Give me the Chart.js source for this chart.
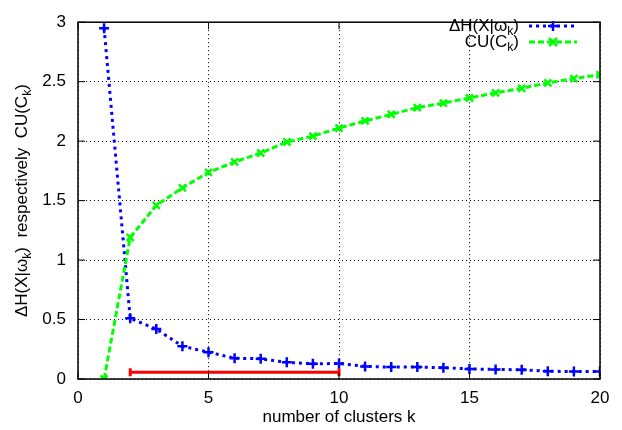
<!DOCTYPE html>
<html lang="en">
<head>
  <meta charset="UTF-8" />
  <title>Delta H and CU vs number of clusters</title>
  <script src="https://cdn.jsdelivr.net/npm/chart.js@4"></script>
  <style>
    body { margin: 0; background: #fff; }
    #wrap { width: 622px; height: 430px; }
  </style>
</head>
<body>
  <div id="wrap"><canvas id="grafico" width="622" height="430"></canvas></div>

  <script>
    // valores
    const clusters = [1, 2, 3, 4, 5, 6, 7, 8, 9, 10, 11, 12, 13, 14, 15, 16, 17, 18, 19, 20];
    const deltaH = [2.95, 0.51, 0.42, 0.275, 0.225, 0.175, 0.17, 0.14, 0.128, 0.13,
                    0.106, 0.10, 0.10, 0.095, 0.085, 0.08, 0.078, 0.065, 0.063, 0.063];
    const cu = [0.0, 1.19, 1.46, 1.607, 1.737, 1.825, 1.90, 1.993, 2.042, 2.11,
                2.17, 2.225, 2.282, 2.32, 2.363, 2.406, 2.444, 2.49, 2.526, 2.559];
    const faixaK = [2, 10];      // barra vermelha
    const faixaY = 0.057;
    const xTicks = [0, 5, 10, 15, 20];
    const yTicks = [0, 0.5, 1, 1.5, 2, 2.5, 3];

    const FONTE = '"Liberation Sans", Arial, sans-serif';
    const TAM = 17;

    // texto com subscritos: partes = [[texto, sub], ...]
    function larguraRica(ctx, partes, tam) {
      let w = 0;
      for (const [t, sub] of partes) {
        ctx.font = (sub ? tam * 0.72 : tam) + 'px ' + FONTE;
        w += ctx.measureText(t).width;
      }
      return w;
    }
    function textoRico(ctx, partes, x, y, tam) {
      ctx.textAlign = 'left';
      ctx.textBaseline = 'alphabetic';
      for (const [t, sub] of partes) {
        ctx.font = (sub ? tam * 0.72 : tam) + 'px ' + FONTE;
        ctx.fillText(t, x, sub ? y + tam * 0.25 : y);
        x += ctx.measureText(t).width;
      }
    }

    const extras = {
      id: 'extras',
      afterDraw(chart) {
        const ctx = chart.ctx;
        const a = chart.chartArea;
        const sx = chart.scales.x, sy = chart.scales.y;
        ctx.save();
        ctx.fillStyle = '#000';

        // moldura e marcas para dentro
        ctx.strokeStyle = '#000';
        ctx.lineWidth = 1.5;
        ctx.setLineDash([]);
        ctx.strokeRect(a.left, a.top, a.right - a.left, a.bottom - a.top);
        ctx.lineWidth = 1;
        ctx.beginPath();
        xTicks.forEach(v => {
          const px = sx.getPixelForValue(v);
          ctx.moveTo(px, a.bottom); ctx.lineTo(px, a.bottom - 7);
          ctx.moveTo(px, a.top); ctx.lineTo(px, a.top + 7);
        });
        yTicks.forEach(v => {
          const py = sy.getPixelForValue(v);
          ctx.moveTo(a.left, py); ctx.lineTo(a.left + 7, py);
          ctx.moveTo(a.right, py); ctx.lineTo(a.right - 7, py);
        });
        ctx.stroke();

        // título do eixo y
        const tituloY = [['ΔH(X|ω', 0], ['k', 1], [')  respectively  CU(C', 0], ['k', 1], [')', 0]];
        const w = larguraRica(ctx, tituloY, TAM);
        ctx.save();
        ctx.translate(27, (a.top + a.bottom) / 2);
        ctx.rotate(-Math.PI / 2);
        textoRico(ctx, tituloY, -w / 2, 0, TAM);
        ctx.restore();

        // legenda
        const itens = [
          { partes: [['ΔH(X|ω', 0], ['k', 1], [')', 0]], cor: '#0000ff', dash: [3, 4], marca: 'mais' },
          { partes: [['CU(C', 0], ['k', 1], [')', 0]], cor: '#00ff00', dash: [6, 3], marca: 'xis' }
        ];
        itens.forEach((it, i) => {
          const yy = 26 + i * 16;
          const wl = larguraRica(ctx, it.partes, TAM);
          ctx.fillStyle = '#000';
          textoRico(ctx, it.partes, 519 - wl, yy + 5, TAM);
          ctx.strokeStyle = it.cor;
          ctx.lineWidth = 3;
          ctx.setLineDash(it.dash);
          ctx.beginPath();
          ctx.moveTo(529, yy); ctx.lineTo(577, yy);
          ctx.stroke();
          ctx.setLineDash([]);
          ctx.lineWidth = 2.5;
          ctx.beginPath();
          if (it.marca === 'mais') {
            ctx.moveTo(548, yy); ctx.lineTo(558, yy);
            ctx.moveTo(553, yy - 5); ctx.lineTo(553, yy + 5);
          } else {
            ctx.moveTo(549, yy - 4); ctx.lineTo(557, yy + 4);
            ctx.moveTo(549, yy + 4); ctx.lineTo(557, yy - 4);
          }
          ctx.stroke();
        });
        ctx.restore();
      }
    };

    const ctx = document.getElementById('grafico');
    new Chart(ctx, {
      type: 'line',
      data: {
        datasets: [
          {
            label: 'deltaH',
            data: clusters.map((k, i) => ({ x: k, y: deltaH[i] })),
            borderColor: '#0000ff',
            backgroundColor: '#0000ff',
            borderWidth: 3,
            borderDash: [3, 4],
            pointStyle: 'cross',
            pointRadius: 5,
            pointBorderWidth: 2.5,
            tension: 0,
            order: 2
          },
          {
            label: 'CU',
            data: clusters.map((k, i) => ({ x: k, y: cu[i] })),
            borderColor: '#00ff00',
            backgroundColor: '#00ff00',
            borderWidth: 3,
            borderDash: [6, 3],
            pointStyle: 'crossRot',
            pointRadius: 5,
            pointBorderWidth: 2.5,
            tension: 0,
            order: 1
          },
          {
            label: 'faixa',
            data: faixaK.map(k => ({ x: k, y: faixaY })),
            borderColor: '#ff0000',
            backgroundColor: '#ff0000',
            borderWidth: 3,
            pointStyle: 'line',
            rotation: 90,
            pointRadius: 4,
            pointBorderWidth: 3,
            order: 0
          }
        ]
      },
      options: {
        responsive: false,
        animation: false,
        layout: { padding: { top: 11, right: 22 } },
        plugins: { legend: { display: false }, tooltip: { enabled: false } },
        scales: {
          x: {
            type: 'linear',
            min: 0, max: 20,
            afterBuildTicks: s => { s.ticks = xTicks.map(v => ({ value: v })); },
            afterFit: s => { s.height = 51; },
            grid: { color: '#000', lineWidth: 1, drawTicks: false },
            border: { display: false, dash: [1, 3] },
            ticks: { color: '#000', padding: 9, font: { size: TAM, family: FONTE }, callback: v => String(v) },
            title: {
              display: true, text: 'number of clusters k', color: '#000',
              font: { size: TAM, family: FONTE }, padding: { top: 0, bottom: 2 }
            }
          },
          y: {
            min: 0, max: 3,
            afterBuildTicks: s => { s.ticks = yTicks.map(v => ({ value: v })); },
            afterFit: s => { s.width = 78; },
            grid: { color: '#000', lineWidth: 1, drawTicks: false },
            border: { display: false, dash: [1, 3] },
            ticks: { color: '#000', padding: 12, font: { size: TAM, family: FONTE }, callback: v => String(v) }
          }
        }
      },
      plugins: [extras]
    });
  </script>
</body>
</html>
